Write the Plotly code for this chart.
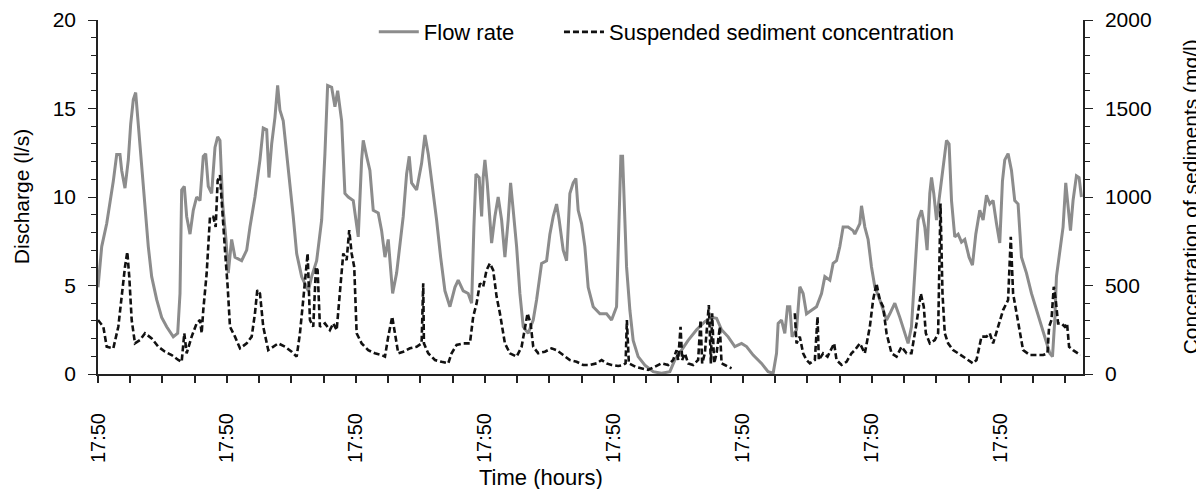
import plotly.graph_objects as go

# ---- data (time in hours from first 17:50 mark) ----
flow_t = [0.0, 0.69, 1.62, 2.23, 2.85, 3.48, 4.09, 4.41, 5.02, 5.64, 6.08, 6.57, 7.01, 7.39, 8.13, 8.74,
          9.36, 9.99, 10.92, 11.85, 12.78, 14.01, 14.83, 15.26, 15.57, 16.06, 16.50, 17.12, 17.73, 18.36,
          18.98, 19.59, 20.04, 20.52, 21.15, 21.77, 22.27, 22.70, 23.20, 23.81, 24.24, 24.87, 25.49, 26.73,
          27.67, 28.28, 29.21, 30.14, 30.75, 31.39, 31.81, 32.32, 32.93, 33.43, 33.86, 34.47, 35.40, 36.33,
          36.97, 37.90, 39.13, 39.76, 40.69, 41.62, 42.23, 42.73, 43.48, 44.09, 44.60, 45.34, 45.95, 46.57,
          47.50, 48.43, 49.06, 49.36, 49.99, 50.60, 51.22, 52.15, 52.78, 53.40, 54.01, 54.83, 55.57, 56.19,
          56.80, 57.43, 57.92, 58.36, 59.29, 60.22, 60.84, 61.45, 62.27, 63.01, 63.76, 64.56, 65.49, 66.42,
          67.03, 67.96, 68.89, 69.53, 69.95, 70.33, 70.94, 71.39, 71.68, 72.00, 72.43, 73.25, 73.86, 74.47,
          75.11, 75.72, 76.33, 76.78, 77.27, 77.90, 78.51, 79.13, 80.06, 80.99, 81.62, 82.55, 83.48, 84.09,
          84.71, 85.34, 85.82, 86.57, 87.20, 87.81, 88.43, 88.93, 89.36, 89.99, 90.60, 91.22, 92.15, 93.40,
          94.64, 95.57, 96.50, 96.93, 97.30, 97.62, 97.92, 98.36, 98.98, 99.59, 100.52, 101.77, 103.31,
          104.87, 106.42, 107.35, 108.60, 109.82, 111.39, 112.93, 114.18, 115.11, 116.04, 117.27, 118.51,
          119.76, 120.69, 121.92, 123.48, 124.70, 125.64, 126.27, 126.57, 127.20, 127.81, 128.31, 128.74,
          129.17, 129.99, 130.60, 131.22, 131.85, 132.78, 133.71, 134.64, 135.26, 136.19, 136.80, 137.43,
          138.05, 138.66, 139.59, 140.52, 140.84, 141.77, 142.08, 142.70, 143.31, 143.94, 144.56, 145.49,
          146.74, 147.35, 148.28, 149.21, 150.14, 150.75, 151.38, 152.00, 152.61, 153.25, 153.86, 154.29,
          154.79, 155.11, 155.53, 156.04, 156.65, 157.27, 157.90, 158.38, 158.83, 159.44, 160.06, 160.69,
          161.30, 162.10, 162.73, 163.35, 164.09, 164.71, 165.34, 165.95, 166.57, 167.20, 167.81, 168.31,
          168.74, 169.36, 169.99, 170.60, 171.22, 171.85, 172.78, 173.71, 174.64, 175.57, 176.50, 177.12,
          177.62, 178.05, 178.36, 178.98, 179.59, 180.09, 180.52, 180.97, 181.45, 182.08, 182.57, 183.01]
flow_q = [4.9, 7.2, 8.5, 9.65, 10.9, 12.4, 12.4, 11.5, 10.5, 12.1, 14.1, 15.5, 15.9, 14.5, 11.7, 9.6,
          7.2, 5.5, 4.2, 3.2, 2.67, 2.1, 2.3, 4.55, 10.4, 10.6, 8.9, 7.9, 9.25, 10.0,
          9.8, 12.3, 12.45, 10.6, 10.2, 12.8, 13.4, 13.2, 9.6, 7.6, 5.7, 7.6, 6.6, 6.4,
          7.0, 8.3, 10.0, 12.1, 13.9, 13.8, 11.1, 13.0, 14.5, 16.3, 14.9, 14.3, 11.7, 8.9,
          6.8, 5.5, 4.7, 5.5, 6.4, 8.7, 12.45, 16.3, 16.2, 15.1, 16.0, 14.3, 10.2, 10.0,
          9.8, 7.75, 12.1, 13.2, 12.3, 11.5, 9.25, 9.1, 8.1, 6.6, 7.6, 4.55, 5.7, 7.4,
          8.9, 11.3, 12.3, 10.8, 10.4, 11.9, 13.5, 12.45, 10.6, 8.7, 6.6, 4.7, 3.8, 4.9,
          5.3, 4.7, 4.55, 4.0, 8.3, 11.3, 11.1, 8.9, 11.1, 12.1, 10.8, 7.4, 8.9, 10.0,
          8.7, 6.6, 8.7, 10.8, 9.25, 7.2, 4.55, 2.67, 2.3, 3.05, 4.2, 6.25, 6.4, 7.9,
          8.9, 9.6, 8.7, 7.0, 6.4, 10.2, 10.8, 11.05, 9.25, 8.5, 7.2, 4.9, 3.8, 3.4,
          3.4, 3.05, 3.8, 9.25, 12.3, 12.3, 9.25, 6.05, 3.6, 1.9, 0.98, 0.5, 0.13,
          0.04, 0.13, 0.8, 1.35, 1.9, 2.5, 2.95, 3.2, 3.15, 2.5, 2.1, 1.55,
          1.73, 1.55, 1.07, 0.6, 0.13, 0.04, 1.17, 2.86, 3.05, 2.3, 3.8, 3.8,
          2.1, 2.5, 4.93, 4.55, 3.4, 3.6, 3.8, 4.55, 5.5, 5.3, 6.25, 6.4,
          7.2, 8.3, 8.3, 8.1, 7.9, 8.5, 9.5, 8.3, 7.6, 6.05, 4.93, 4.2,
          3.05, 3.4, 4.0, 3.2, 2.3, 1.73, 2.67, 5.5, 8.7, 9.25, 8.3, 7.0,
          10.2, 11.1, 10.2, 8.7, 10.2, 11.9, 13.2, 13.0, 9.8, 7.75, 7.9, 7.45,
          7.6, 6.6, 6.15, 7.9, 9.25, 8.7, 10.1, 9.6, 9.8, 8.5, 7.4, 10.9,
          12.1, 12.45, 11.5, 9.8, 9.6, 6.6, 5.7, 4.55, 3.6, 2.67, 1.73, 1.17,
          0.98, 3.05, 5.5, 6.8, 8.3, 10.8, 9.4, 8.1, 9.8, 11.2, 11.1, 10.0]

sed_t = [0.0, 0.99, 1.62, 2.85, 3.78, 4.41, 5.02, 5.45, 5.82, 6.27, 6.88, 7.81, 8.74, 9.99, 11.22, 12.47,
         13.71, 14.94, 15.57, 16.06, 16.50, 17.43, 18.36, 18.98, 19.29, 19.59, 20.22, 20.84, 21.45, 21.90,
         22.27, 22.70, 23.01, 23.31, 23.63, 24.13, 24.56, 25.49, 26.42, 27.67, 28.60, 29.21, 29.64, 30.14,
         30.75, 31.68, 32.61, 33.54, 34.79, 36.04, 36.97, 37.58, 38.19, 38.83, 39.01, 39.44, 40.06, 40.56,
         40.87, 41.30, 42.23, 43.16, 43.78, 44.41, 45.02, 45.64, 46.27, 46.75, 47.20, 47.68, 48.13, 49.06,
         50.29, 51.53, 52.78, 53.40, 54.01, 54.75, 55.26, 55.87, 56.80, 58.05, 59.29, 60.22, 60.52, 60.65,
         61.45, 62.70, 63.94, 65.17, 65.80, 66.73, 67.96, 69.21, 69.82, 70.45, 71.07, 71.68, 72.31, 72.93,
         73.54, 74.18, 74.79, 75.72, 76.65, 77.90, 78.83, 79.44, 79.94, 80.50, 80.99, 81.92, 83.16, 84.41,
         85.34, 86.57, 87.81, 89.06, 90.29, 91.53, 92.78, 93.71, 94.64, 95.57, 96.80, 97.73, 98.18, 98.42,
         98.79, 100.00, 101.15, 102.38, 103.63, 104.87, 106.10, 107.03, 107.66, 107.96, 108.41, 108.71,
         109.21, 109.82, 110.75, 111.68, 112.13, 112.43, 112.93, 113.43, 113.67, 114.05, 114.29, 114.66,
         115.11, 115.72, 116.04, 116.65, 117.90, 123.0,
         129.67, 129.99, 130.60, 131.22, 131.85, 132.47, 133.40, 133.90, 134.14, 134.94, 135.76, 136.37,
         136.99, 137.43, 138.36, 139.29, 140.22, 140.84, 141.77, 142.70, 143.63, 144.24, 144.87, 145.49,
         146.10, 146.74, 147.67, 148.60, 149.53, 150.46, 151.38, 152.32, 153.12, 153.67, 154.05, 154.79,
         155.72, 156.34, 156.78, 157.15, 157.58, 158.20, 159.13, 160.06, 160.99, 161.92, 162.85, 163.48,
         164.41, 165.34, 165.95, 166.57, 167.50, 168.43, 169.36, 169.86, 170.29, 170.92, 171.53, 172.15,
         173.40, 174.64, 175.87, 176.69, 176.99, 177.43, 177.86, 178.23, 178.66, 179.29, 179.91, 180.33,
         180.71, 181.45, 182.38, 182.82]
sed_c = [305, 267, 154, 145, 267, 455, 605, 690, 549, 305, 173, 192, 230, 201, 154, 126,
         107, 79, 69, 230, 117, 211, 286, 305, 230, 361, 568, 888, 888, 831,
         1095, 1123, 963, 831, 700, 493, 267, 211, 145, 173, 211, 343, 474, 455,
         267, 135, 154, 173, 154, 126, 98, 230, 418, 643, 681, 305, 267, 605,
         587, 267, 286, 248, 286, 248, 474, 681, 643, 813, 681, 605, 230, 173,
         135, 117, 107, 98, 211, 324, 230, 117, 126, 145, 154, 173, 512, 173,
         117, 79, 69, 60, 117, 164, 173, 173, 324, 399, 512, 493, 587, 625,
         587, 436, 343, 173, 117, 98, 154, 267, 343, 286, 154, 117, 126, 145,
         135, 107, 79, 69, 51, 51, 60, 79, 60, 51, 45, 51, 60, 305,
         60, 41, 32, 23, 41, 60, 51, 79, 135, 79, 267, 79,
         117, 60, 51, 79, 305, 60, 117, 324, 389, 60, 343, 60,
         117, 267, 60, 51, 32, None,
         343, 173, 211, 117, 79, 60, 79, 324, 79, 117, 98, 135,
         173, 79, 51, 69, 117, 135, 173, 117, 267, 418, 512, 418,
         380, 230, 117, 98, 154, 117, 117, 286, 455, 380, 230, 173,
         192, 230, 963, 455, 230, 173, 135, 117, 98, 79, 60, 79,
         211, 211, 230, 173, 267, 361, 418, 775, 455, 343, 230, 135,
         107, 107, 107, 117, 267, 305, 493, 418, 286, 286, 267, 286,
         154, 135, 117, 107]

tick_hours = [0, 24, 48, 72, 96, 120, 144, 168]
tick_labels = ["17:50"] * len(tick_hours)

FONT = "Liberation Sans, Arial, sans-serif"

fig = go.Figure()
fig.add_trace(go.Scatter(x=flow_t, y=flow_q, mode="lines", name="Flow rate",
                         line=dict(color="#8c8c8c", width=3), yaxis="y", legend="legend"))
fig.add_trace(go.Scatter(x=sed_t, y=sed_c, mode="lines", name="Suspended sediment concentration",
                         line=dict(color="#111111", width=2.6, dash="6px,3px"),
                         connectgaps=False, yaxis="y2", legend="legend2"))

axis_color = "#222"
fig.update_layout(
    width=1204, height=489,
    # page body adds an 8px offset; margins compensate so the plot sits at 98..1083 x 20..374
    margin=dict(l=90, r=129, t=12, b=123, autoexpand=False),
    paper_bgcolor="white", plot_bgcolor="white",
    font=dict(family=FONT, size=20, color="black"),
    showlegend=True,
    legend=dict(orientation="h", x=0.280, y=0.966, xanchor="left", yanchor="middle",
                bgcolor="rgba(0,0,0,0)", font=dict(size=22), itemwidth=40),
    legend2=dict(orientation="h", x=0.468, y=0.966, xanchor="left", yanchor="middle",
                 bgcolor="rgba(0,0,0,0)", font=dict(size=22), itemwidth=40),
    xaxis=dict(range=[0, 183.3], showgrid=False, zeroline=False, automargin=False,
               showline=True, linecolor=axis_color, linewidth=2,
               tickmode="array", tickvals=tick_hours, ticktext=tick_labels,
               tickangle=-90, ticks="outside", ticklen=7, tickwidth=1.5, tickcolor=axis_color,
               ticklabelstandoff=22, tickfont=dict(size=20),
               minor=dict(tickmode="linear", tick0=0, dtick=6, ticks="outside",
                          ticklen=7, tickwidth=1.5, tickcolor=axis_color, showgrid=False)),
    yaxis=dict(range=[0, 20], showgrid=False, zeroline=False, automargin=False,
               showline=True, linecolor=axis_color, linewidth=1.5,
               tickmode="linear", tick0=0, dtick=5, ticks="outside", ticklen=8,
               tickwidth=1.3, tickcolor=axis_color, ticklabelstandoff=8, tickfont=dict(size=21),
               minor=dict(tickmode="linear", tick0=0, dtick=1, ticks="outside",
                          ticklen=5, tickwidth=1.3, tickcolor=axis_color, showgrid=False)),
    yaxis2=dict(range=[0, 2000], overlaying="y", side="right", showgrid=False, zeroline=False,
                automargin=False,
                showline=True, linecolor=axis_color, linewidth=1.5,
                tickmode="linear", tick0=0, dtick=500, ticks="outside", ticklen=8,
                tickwidth=1.3, tickcolor=axis_color, ticklabelstandoff=8, tickfont=dict(size=21),
                minor=dict(tickmode="linear", tick0=0, dtick=100, ticks="outside",
                           ticklen=5, tickwidth=1.3, tickcolor=axis_color, showgrid=False)),
    annotations=[
        dict(text="Discharge (l/s)", xref="paper", yref="paper", x=-0.078, y=0.5,
             xanchor="center", yanchor="middle", textangle=-90, showarrow=False,
             font=dict(size=21)),
        dict(text="Concentration of sediments (mg/l)", xref="paper", yref="paper", x=1.109, y=0.5,
             xanchor="center", yanchor="middle", textangle=-90, showarrow=False,
             font=dict(size=21)),
        dict(text="Time (hours)", xref="paper", yref="paper", x=0.45, y=-0.291,
             xanchor="center", yanchor="middle", showarrow=False, font=dict(size=22)),
    ],
)

fig.write_html("out.html")
